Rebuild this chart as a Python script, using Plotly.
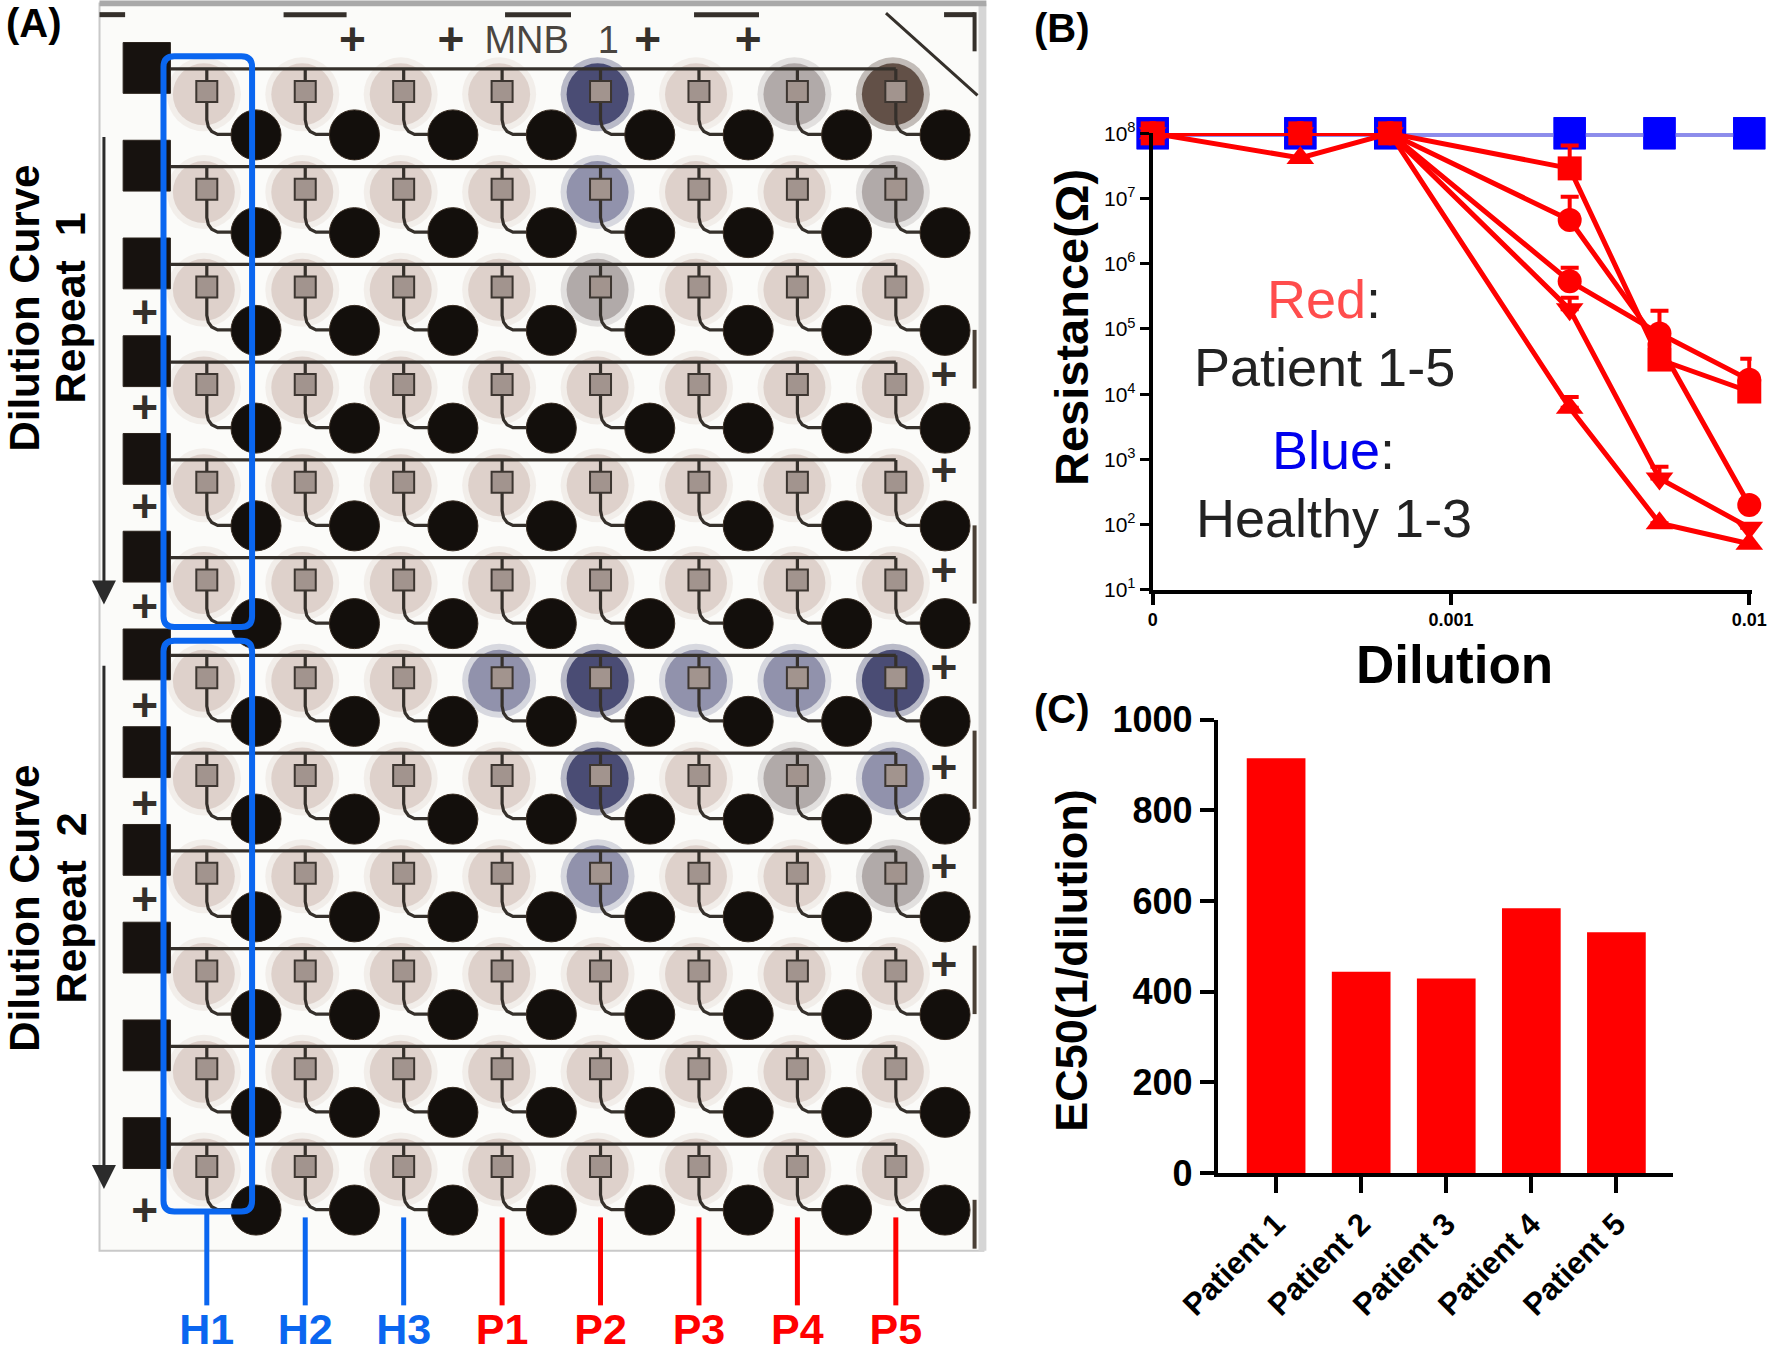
import plotly.graph_objects as go

# =====================================================================
# DATA
# =====================================================================
# ---- Panel (B): resistance vs dilution ------------------------------
# the undiluted control ("0") is placed at 1e-4 on the log axis
dilution = [1e-4, 1 / 3200, 1 / 1600, 1 / 400, 1 / 200, 1 / 100]
dilution_tickvals = [1e-4, 1e-3, 1e-2]
dilution_ticktext = ["0", "0.001", "0.01"]
resistance_tickvals = [1e1, 1e2, 1e3, 1e4, 1e5, 1e6, 1e7, 1e8]
resistance_ticktext = ["10<sup>1</sup>", "10<sup>2</sup>", "10<sup>3</sup>", "10<sup>4</sup>",
                       "10<sup>5</sup>", "10<sup>6</sup>", "10<sup>7</sup>", "10<sup>8</sup>"]

healthy_1 = [1e8, 1e8, 1e8, 1e8, 1e8, 1e8]
healthy_2 = [1e8, 1e8, 1e8, 1e8, 1e8, 1e8]
healthy_3 = [1e8, 1e8, 1e8, 1e8, 1e8, 1e8]

patient_1 = [1e8, 1e8, 1e8, 2.9e7, 3.4e4, 1.1e4]
patient_2 = [1e8, 1e8, 1e8, 4.7e6, 5.7e4, 2.0e2]
patient_3 = [1e8, 1e8, 1e8, 5.4e5, 8.5e4, 1.66e4]
patient_4 = [1e8, 1e8, 1e8, 2.0e5, 5.1e2, 9.0e1]
patient_5 = [1e8, 4.2e7, 1e8, 6.2e3, 1.05e2, 5.1e1]

# upper end of the (one-sided) error bars
patient_1_upper = [1e8, 1e8, 1e8, 6.5e7, 3.4e4, 1.1e4]
patient_2_upper = [1e8, 1e8, 1e8, 1.07e7, 5.7e4, 2.0e2]
patient_3_upper = [1e8, 1e8, 1e8, 8.7e5, 1.9e5, 3.5e4]
patient_4_upper = [1e8, 1e8, 1e8, 3.0e5, 7.7e2, 9.0e1]
patient_5_upper = [1e8, 4.2e7, 1e8, 9.1e3, 1.05e2, 5.1e1]

# ---- Panel (C): EC50 -------------------------------------------------
patients = ["Patient 1", "Patient 2", "Patient 3", "Patient 4", "Patient 5"]
ec50 = [915, 444, 429, 584, 531]
ec50_tickvals = [0, 200, 400, 600, 800, 1000]

# ---- Panel (A): sensor chip (8 columns x 12 dilution rows) ----------
chip_columns = ["H1", "H2", "H3", "P1", "P2", "P3", "P4", "P5"]
chip_rows = list(range(12))
# stain level of each spot (0 light ... 3 dark blue, 4 dark brown)
stain = [
    [0, 0, 0, 0, 3, 0, 1, 4],
    [0, 0, 0, 0, 2, 0, 0, 1],
    [0, 0, 0, 0, 1, 0, 0, 0],
    [0, 0, 0, 0, 0, 0, 0, 0],
    [0, 0, 0, 0, 0, 0, 0, 0],
    [0, 0, 0, 0, 0, 0, 0, 0],
    [0, 0, 0, 2, 3, 2, 2, 3],
    [0, 0, 0, 0, 3, 0, 1, 2],
    [0, 0, 0, 0, 2, 0, 0, 1],
    [0, 0, 0, 0, 0, 0, 0, 0],
    [0, 0, 0, 0, 0, 0, 0, 0],
    [0, 0, 0, 0, 0, 0, 0, 0],
]

# =====================================================================
# STYLE / LAYOUT HELPERS
# =====================================================================
W, H = 1772, 1356
FONT = "Liberation Sans, Arial, Helvetica, sans-serif"
RED = "#ff0000"
BLUE = "#0000ff"
CHIP_BLUE = "#0a66f0"
INK = "#35302b"


def px(d):  # horizontal position in the 1568-wide reference layout -> paper
    return d / 1568.0


def py(d):  # vertical position in the 1200-high reference layout -> paper
    return 1 - d / 1200.0


fig = go.Figure()

# =====================================================================
# PANEL (A)  -- drawn in its own data axes (x, y), units = spot pitch
# =====================================================================
halo_rgb = {0: (168, 128, 116), 1: (118, 104, 104), 2: (88, 90, 130), 3: (42, 45, 92), 4: (70, 50, 40)}
halo_alpha = {0: 0.26, 1: 0.45, 2: 0.55, 3: 0.78, 4: 0.78}

sq_x, sq_y, ci_x, ci_y = [], [], [], []
halo_x, halo_y, halo_col_in, halo_col_out = [], [], [], []
wire_x, wire_y = [], []
for r in chip_rows:
    # horizontal bus line of the row
    wire_x += [-0.37, len(chip_columns) - 1, None]
    wire_y += [r - 0.22, r - 0.22, None]
    for c, _name in enumerate(chip_columns):
        sq_x.append(c)
        sq_y.append(r + 0.01)
        ci_x.append(c + 0.5)
        ci_y.append(r + 0.455)
        halo_x.append(c - 0.03)
        halo_y.append(r + 0.04)
        lvl = stain[r][c]
        rr, gg, bb = halo_rgb[lvl]
        a = halo_alpha[lvl]
        halo_col_in.append(f"rgba({rr},{gg},{bb},{a})")
        halo_col_out.append(f"rgba({rr},{gg},{bb},{a * 0.40:.3f})")
        wire_x += [c, c, c + 0.015, c + 0.05, c + 0.11, c + 0.28, None]
        wire_y += [r - 0.22, r + 0.30, r + 0.37, r + 0.42, r + 0.45, r + 0.45, None]

# photo background
shapes = [
    dict(type="rect", xref="x", yref="y", x0=-1.09, x1=7.89, y0=-0.89, y1=11.87,
         fillcolor="#fbfbf9", line=dict(color="#c9c9c9", width=2), layer="below"),
    dict(type="rect", xref="x", yref="y", x0=7.84, x1=7.92, y0=-0.89, y1=11.87,
         fillcolor="#d6d6d6", line=dict(width=0), layer="below"),
    dict(type="rect", xref="x", yref="y", x0=-1.09, x1=7.92, y0=-0.92, y1=-0.86,
         fillcolor="#a9a9a9", line=dict(width=0), layer="below"),
]
# contact pads at the left of each row
for r in chip_rows:
    shapes.append(dict(type="rect", xref="x", yref="y", x0=-0.85, x1=-0.37,
                       y0=r - 0.49, y1=r + 0.03, fillcolor="#17120f",
                       line=dict(color="#2a221c", width=1), layer="above"))
# printed marks on the chip (dashes, corner bracket, side bars)
for x0, x1 in [(-1.09, -0.83), (0.78, 1.42), (3.03, 3.70), (4.95, 5.61), (7.49, 7.80)]:
    shapes.append(dict(type="line", xref="x", yref="y", x0=x0, x1=x1, y0=-0.775, y1=-0.775,
                       line=dict(color=INK, width=5)))
shapes.append(dict(type="line", xref="x", yref="y", x0=7.80, x1=7.80, y0=-0.80, y1=-0.40,
                   line=dict(color=INK, width=4)))
shapes.append(dict(type="line", xref="x", yref="y", x0=6.90, x1=7.83, y0=-0.79, y1=0.05,
                   line=dict(color=INK, width=3)))
for y0, y1 in [(2.45, 3.05), (4.45, 5.25), (6.55, 7.35), (8.75, 9.45), (11.35, 11.85)]:
    shapes.append(dict(type="line", xref="x", yref="y", x0=7.80, x1=7.80, y0=y0, y1=y1,
                       line=dict(color="#4a4036", width=4)))


def rounded_rect(x0, y0, x1, y1, rx, ry):
    return (f"M {x0 + rx},{y0} L {x1 - rx},{y0} Q {x1},{y0} {x1},{y0 + ry} "
            f"L {x1},{y1 - ry} Q {x1},{y1} {x1 - rx},{y1} L {x0 + rx},{y1} "
            f"Q {x0},{y1} {x0},{y1 - ry} L {x0},{y0 + ry} Q {x0},{y0} {x0 + rx},{y0} Z")


for y0, y1 in [(-0.35, 5.49), (5.63, 11.47)]:
    shapes.append(dict(type="path", xref="x", yref="y",
                       path=rounded_rect(-0.44, y0, 0.46, y1, 0.11, 0.11),
                       line=dict(color=CHIP_BLUE, width=6), layer="above"))

# halos (outer soft ring + inner core)
fig.add_trace(go.Scatter(x=halo_x, y=halo_y, mode="markers", xaxis="x", yaxis="y",
                         marker=dict(symbol="circle", size=74, color=halo_col_out, line=dict(width=0)),
                         hoverinfo="skip"))
fig.add_trace(go.Scatter(x=halo_x, y=halo_y, mode="markers", xaxis="x", yaxis="y",
                         marker=dict(symbol="circle", size=62, color=halo_col_in, line=dict(width=0)),
                         hoverinfo="skip"))
# wiring
fig.add_trace(go.Scatter(x=wire_x, y=wire_y, mode="lines", xaxis="x", yaxis="y",
                         line=dict(color=INK, width=3.2), hoverinfo="skip"))
# working electrodes (small squares) and counter electrodes (black discs)
fig.add_trace(go.Scatter(x=sq_x, y=sq_y, mode="markers", xaxis="x", yaxis="y",
                         marker=dict(symbol="square", size=21, color="#a2948e",
                                     line=dict(color="#3d3631", width=2)), hoverinfo="skip"))
fig.add_trace(go.Scatter(x=ci_x, y=ci_y, mode="markers", xaxis="x", yaxis="y",
                         marker=dict(symbol="circle", size=50, color="#130f0c",
                                     line=dict(color="#3a2e24", width=1)), hoverinfo="skip"))

# "+" marks and "MNB 1" print on the chip
plus_x = [1.48, 2.48, 4.48, 5.50] + [-0.63] * 8 + [7.49] * 7
plus_y = [-0.48] * 4 + [2.31, 3.29, 4.30, 5.32, 6.33, 7.34, 8.32, 11.50] + \
         [2.95, 3.93, 4.95, 5.95, 6.97, 7.98, 8.98]
fig.add_trace(go.Scatter(x=plus_x, y=plus_y, mode="text", text=["<b>+</b>"] * len(plus_x),
                         xaxis="x", yaxis="y", textposition="middle center", cliponaxis=False,
                         textfont=dict(family=FONT, size=46, color=INK), hoverinfo="skip"))
fig.add_trace(go.Scatter(x=[3.25, 4.08], y=[-0.48, -0.48], mode="text", text=["MNB", "1"],
                         xaxis="x", yaxis="y", textposition="middle center", cliponaxis=False,
                         textfont=dict(family=FONT, size=38, color="#4a4540"), hoverinfo="skip"))

# column indicator lines + labels below the chip
for c, name in enumerate(chip_columns):
    col = CHIP_BLUE if name.startswith("H") else RED
    top = 11.47 if c == 0 else 11.53
    fig.add_trace(go.Scatter(x=[c, c], y=[top, 12.43], mode="lines", xaxis="x", yaxis="y",
                             line=dict(color=col, width=5), hoverinfo="skip"))
fig.add_trace(go.Scatter(x=list(range(len(chip_columns))), y=[12.72] * len(chip_columns),
                         mode="text", text=[f"<b>{n}</b>" for n in chip_columns],
                         xaxis="x", yaxis="y", textposition="middle center", cliponaxis=False,
                         textfont=dict(family=FONT, size=43,
                                       color=[CHIP_BLUE if n.startswith("H") else RED for n in chip_columns]),
                         hoverinfo="skip"))

# =====================================================================
# PANEL (B)
# =====================================================================
for hv in [healthy_1, healthy_2, healthy_3]:
    fig.add_trace(go.Scatter(x=dilution, y=hv, mode="lines+markers", xaxis="x2", yaxis="y2",
                             line=dict(color="rgb(140,140,235)", width=7),
                             marker=dict(symbol="square", size=32, color=BLUE),
                             cliponaxis=False))

patient_series = [
    (patient_5, patient_5_upper, "triangle-up"),
    (patient_4, patient_4_upper, "triangle-down"),
    (patient_3, patient_3_upper, "circle"),
    (patient_2, patient_2_upper, "circle"),
    (patient_1, patient_1_upper, "square"),
]
for vals, upper, sym in patient_series:
    plus = [u - v for u, v in zip(upper, vals)]
    fig.add_trace(go.Scatter(x=dilution, y=vals, mode="lines+markers", xaxis="x2", yaxis="y2",
                             line=dict(color=RED, width=5),
                             marker=dict(symbol=sym, size=24, color=RED),
                             error_y=dict(type="data", array=plus, arrayminus=[0] * len(vals),
                                          symmetric=False, color=RED, thickness=4, width=9),
                             cliponaxis=False))

# =====================================================================
# PANEL (C)
# =====================================================================
fig.add_trace(go.Bar(x=list(range(len(patients))), y=ec50, xaxis="x3", yaxis="y3",
                     marker=dict(color=RED, line=dict(width=0)), width=0.69))

# =====================================================================
# LAYOUT
# =====================================================================
axis_common = dict(showgrid=False, zeroline=False, showline=True, linecolor="black",
                   ticks="outside", tickcolor="black", automargin=False)

fig.update_layout(
    template="none",
    width=W, height=H, margin=dict(l=0, r=0, t=0, b=0, pad=0, autoexpand=False),
    paper_bgcolor="white", plot_bgcolor="rgba(0,0,0,0)", showlegend=False,
    font=dict(family=FONT, color="black"),
    xaxis=dict(domain=[0, px(900)], range=[-2.101, 8.232], visible=False, anchor="y",
               automargin=False),
    yaxis=dict(domain=[0, 1], range=[12.948, -0.925], visible=False, anchor="x",
               automargin=False),
    xaxis2=dict(domain=[px(1020), px(1550)], type="log", range=[-4, -1.992], anchor="y2",
                tickvals=dilution_tickvals, ticktext=dilution_ticktext,
                linewidth=4, ticklen=11, tickwidth=4,
                tickfont=dict(size=18, family=FONT, weight="bold"), **axis_common),
    yaxis2=dict(domain=[py(522), py(118)], type="log", range=[1, 8], anchor="x2",
                tickvals=resistance_tickvals, ticktext=resistance_ticktext,
                linewidth=4, ticklen=9, tickwidth=3,
                tickfont=dict(size=21, family=FONT), **axis_common),
    xaxis3=dict(domain=[px(1078), px(1480)], range=[-0.68, 4.66], anchor="y3",
                tickvals=list(range(len(patients))), ticktext=patients, tickangle=-45,
                linewidth=4.5, ticklen=16, tickwidth=4,
                tickfont=dict(size=31, family=FONT, weight="bold"), **axis_common),
    yaxis3=dict(domain=[py(1038), py(637)], range=[0, 1000], anchor="x3",
                tickvals=ec50_tickvals, linewidth=4.5, ticklen=14, tickwidth=4,
                tickfont=dict(size=36, family=FONT, weight="bold"), **axis_common),
    shapes=shapes,
)

C = dict(xanchor="center", yanchor="middle", showarrow=False)
ann = []
# panel letters
ann.append(dict(text="<b>(A)</b>", xref="paper", yref="paper", x=px(30), y=py(20),
                font=dict(size=40, family=FONT), **C))
ann.append(dict(text="<b>(B)</b>", xref="paper", yref="paper", x=px(940), y=py(25),
                font=dict(size=40, family=FONT), **C))
ann.append(dict(text="<b>(C)</b>", xref="paper", yref="paper", x=px(940), y=py(627),
                font=dict(size=40, family=FONT), **C))
# panel A side titles
for v, rep in [(2.23, "1"), (8.37, "2")]:
    ann.append(dict(text="<b>Dilution Curve</b>", xref="x", yref="y", x=-1.855, y=v,
                    textangle=-90, font=dict(size=42, family=FONT), **C))
    ann.append(dict(text=f"<b>Repeat\u00a0 {rep}</b>", xref="x", yref="y", x=-1.389, y=v,
                    textangle=-90, font=dict(size=43, family=FONT), **C))
for v0, v1 in [(0.46, 5.26), (5.87, 11.24)]:
    ann.append(dict(text="", xref="x", yref="y", x=-1.045, y=v1, axref="x", ayref="y",
                    ax=-1.045, ay=v0, showarrow=True, arrowhead=2, arrowsize=1.6,
                    arrowwidth=3, arrowcolor="#2b2b2b"))
# panel B axis titles and in-plot key
ann.append(dict(text="<b>Resistance(\u03a9)</b>", xref="paper", yref="paper", x=px(948), y=py(290),
                textangle=-90, font=dict(size=47, family=FONT), **C))
ann.append(dict(text="<b>Dilution</b>", xref="paper", yref="paper", x=px(1287), y=py(588),
                font=dict(size=53, family=FONT), **C))
ann.append(dict(text="<span style='color:#ff4d4d'>Red</span>:", xref="paper", yref="paper",
                x=px(1172), y=py(265), font=dict(size=54, family=FONT, color="#222"), **C))
ann.append(dict(text="Patient 1-5", xref="paper", yref="paper", x=px(1172), y=py(325),
                font=dict(size=54, family=FONT, color="#222"), **C))
ann.append(dict(text="<span style='color:#0000ee'>Blue</span>:", xref="paper", yref="paper",
                x=px(1180), y=py(398), font=dict(size=54, family=FONT, color="#222"), **C))
ann.append(dict(text="Healthy 1-3", xref="paper", yref="paper", x=px(1180), y=py(458),
                font=dict(size=54, family=FONT, color="#222"), **C))
# panel C axis title
ann.append(dict(text="<b>EC50(1/dilution)</b>", xref="paper", yref="paper", x=px(948), y=py(850),
                textangle=-90, font=dict(size=45, family=FONT), **C))
fig.update_layout(annotations=ann)

fig.write_html("out.html",
               config={"displayModeBar": False, "staticPlot": True},
               post_script="document.body.style.margin='0px';"
                           "document.body.style.overflow='hidden';")
